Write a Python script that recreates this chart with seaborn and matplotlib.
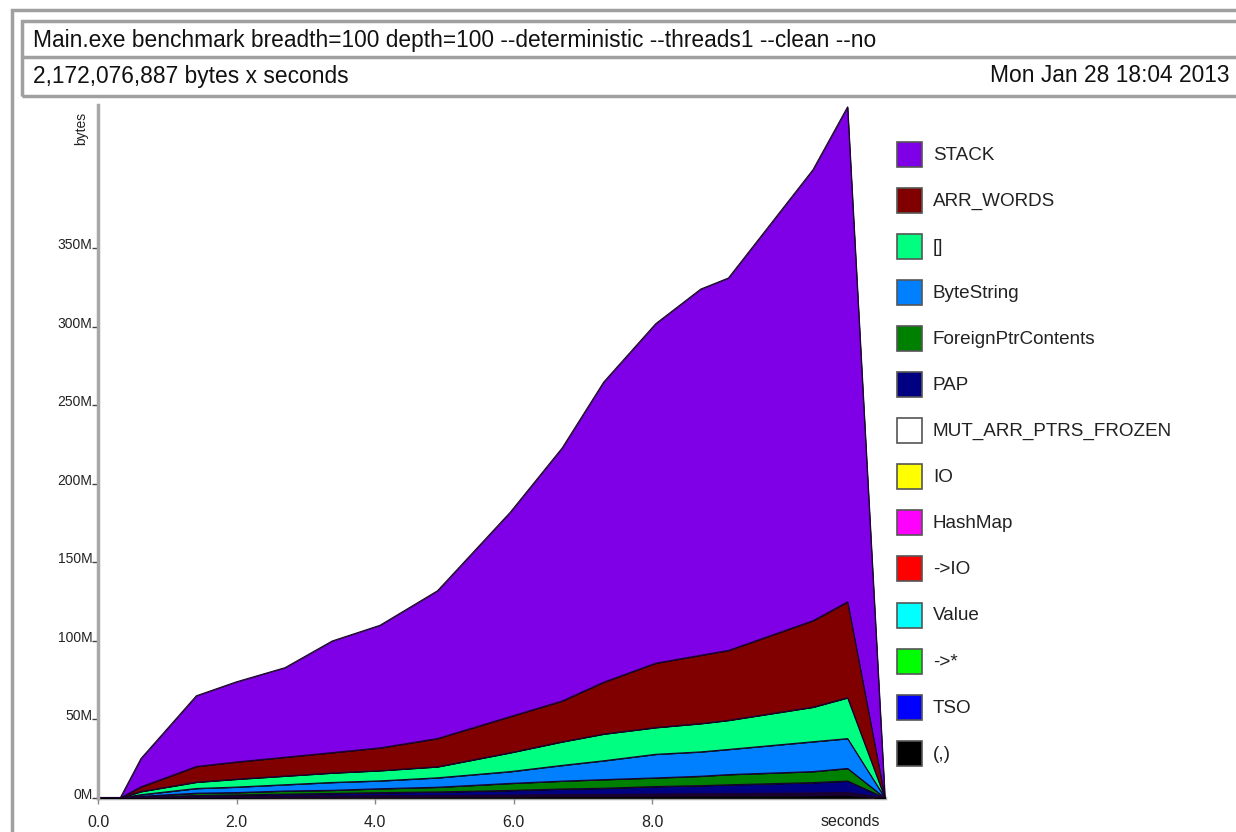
import numpy as np
import pandas as pd
import matplotlib
matplotlib.use("Agg")
import matplotlib.pyplot as plt
from matplotlib.patches import Rectangle
import matplotlib.transforms as mtransforms
import seaborn as sns

# ---------------- data (values in millions of bytes) ----------------
times = [0.0, 0.32, 0.62, 1.42, 2.0, 2.7, 3.38, 4.07, 4.9, 5.95, 6.7, 7.3, 8.05, 8.7, 9.1, 10.32, 10.82, 11.36]

stack_vals = [0, 0, 18, 45, 51, 57, 71, 78, 94, 130, 161, 191, 216, 233, 237, 287, 315, 0]
arr_words = [0, 0, 3, 10, 11, 12, 13, 14.5, 18, 23, 26, 33, 41, 43.5, 44.5, 55, 61, 0]
list_vals = [0, 0, 2, 4, 5, 5.5, 6, 6.5, 7, 12, 15, 17, 17, 18, 18.5, 22, 26, 0]
bytestring = [0, 0, 1, 3, 3.5, 4, 5, 5, 6, 7.5, 10, 12, 15, 15.5, 16, 19, 19, 0]
foreignptr = [0, 0, 0.5, 1.5, 1.5, 2, 2, 2.5, 3, 4.5, 5, 5.5, 5.5, 6, 6.5, 7, 8, 0]
pap = [0, 0, 0.2, 0.7, 1.0, 1.3, 1.7, 2.0, 2.3, 3.0, 3.6, 4.0, 4.8, 5.1, 5.6, 6.6, 7.3, 0]
mut_arr = [0, 0, 0.05, 0.1, 0.1, 0.15, 0.15, 0.2, 0.2, 0.25, 0.3, 0.3, 0.35, 0.4, 0.4, 0.45, 0.5, 0]
io_vals = [0, 0, 0.02, 0.05, 0.05, 0.05, 0.05, 0.05, 0.05, 0.05, 0.05, 0.05, 0.05, 0.05, 0.05, 0.05, 0.05, 0]
hashmap = [0, 0, 0.05, 0.1, 0.1, 0.1, 0.1, 0.1, 0.15, 0.15, 0.2, 0.2, 0.2, 0.25, 0.25, 0.3, 0.3, 0]
to_io = [0, 0, 0.02, 0.05, 0.05, 0.05, 0.05, 0.05, 0.05, 0.05, 0.05, 0.05, 0.05, 0.05, 0.05, 0.05, 0.05, 0]
value_vals = [0, 0, 0.05, 0.1, 0.1, 0.1, 0.15, 0.15, 0.15, 0.2, 0.2, 0.25, 0.25, 0.3, 0.3, 0.35, 0.35, 0]
to_star = [0, 0, 0.05, 0.1, 0.1, 0.15, 0.15, 0.2, 0.2, 0.25, 0.3, 0.3, 0.35, 0.35, 0.4, 0.45, 0.5, 0]
tso = [0, 0, 0.05, 0.05, 0.05, 0.05, 0.05, 0.05, 0.05, 0.05, 0.05, 0.05, 0.05, 0.05, 0.05, 0.05, 0.05, 0]
tuple_vals = [0, 0, 0.1, 0.3, 0.4, 0.5, 0.5, 0.6, 0.7, 0.8, 1.0, 1.0, 1.2, 1.3, 1.3, 1.5, 1.7, 0]

# legend order (top of stack first)
legend_names = ["STACK", "ARR_WORDS", "[]", "ByteString", "ForeignPtrContents", "PAP",
                "MUT_ARR_PTRS_FROZEN", "IO", "HashMap", "->IO", "Value", "->*", "TSO", "(,)"]
legend_colors = ["#7f00e6", "#800000", "#00ff80", "#0080ff", "#008000", "#000080",
                 "#ffffff", "#ffff00", "#ff00ff", "#ff0000", "#00ffff", "#00ff00", "#0000ff", "#000000"]
series_values = [stack_vals, arr_words, list_vals, bytestring, foreignptr, pap,
                 mut_arr, io_vals, hashmap, to_io, value_vals, to_star, tso, tuple_vals]

title_text = "Main.exe benchmark breadth=100 depth=100 --deterministic --threads1 --clean --no"
subtitle_left = "2,172,076,887 bytes x seconds"
subtitle_right = "Mon Jan 28 18:04 2013"
y_ticks = [0, 50, 100, 150, 200, 250, 300, 350]
y_ticklabels = ["0M", "50M", "100M", "150M", "200M", "250M", "300M", "350M"]
x_ticks = [0.0, 2.0, 4.0, 6.0, 8.0]
x_ticklabels = ["0.0", "2.0", "4.0", "6.0", "8.0"]

# ---------------- styling ----------------
sns.set_style("white")
plt.rcParams["font.family"] = ["Liberation Sans", "DejaVu Sans"]

W, H = 1236, 832
fig = plt.figure(figsize=(W / 100, H / 100), dpi=100)
fig.patch.set_facecolor("white")

def fx(x):
    return x / W

def fy(y):
    return 1 - y / H

# frames
frame_col = "#a0a0a0"
fig.patches.append(Rectangle((fx(12), fy(900)), fx(1400), fy(10) - fy(900),
                             transform=fig.transFigure, fill=False, ec=frame_col, lw=2.5))
fig.patches.append(Rectangle((fx(22), fy(96)), fx(1400), fy(21) - fy(96),
                             transform=fig.transFigure, fill=False, ec=frame_col, lw=2.5))
fig.add_artist(plt.Line2D([fx(22), fx(1236)], [fy(57), fy(57)], transform=fig.transFigure,
                          color=frame_col, lw=2.5))

fig.text(fx(33), fy(40), title_text, fontsize=16.4, va="center", ha="left", color="#111111")
fig.text(fx(33), fy(76), subtitle_left, fontsize=16.4, va="center", ha="left", color="#111111")
fig.text(fx(1229), fy(76), subtitle_right, fontsize=16.4, va="center", ha="right", color="#111111")

# axes
ax = fig.add_axes([fx(98), fy(798), fx(885 - 98), fy(105) - fy(798)])
ax.set_facecolor("white")

stack_order = list(reversed(range(len(legend_names))))  # bottom first
ax.stackplot(times, *[series_values[i] for i in stack_order],
             colors=[legend_colors[i] for i in stack_order],
             edgecolor="black", linewidth=0.5)

# outline the boundaries with seaborn
cum = np.zeros(len(times))
rows = []
for i in stack_order:
    cum = cum + np.array(series_values[i], dtype=float)
    for t, c in zip(times, cum):
        rows.append({"time": t, "cum": c, "series": legend_names[i]})
long_df = pd.DataFrame(rows)
sns.lineplot(data=long_df, x="time", y="cum", units="series", estimator=None,
             color="#1a0030", lw=0.8, legend=False, ax=ax, sort=False)

ax.set_xlim(0, 11.36)
ax.set_ylim(0, 441)
ax.set_xlabel("")
ax.set_ylabel("")
for s in ["top", "right"]:
    ax.spines[s].set_visible(False)
for s in ["left", "bottom"]:
    ax.spines[s].set_color("#a8a8a8")
    ax.spines[s].set_linewidth(2.5)
ax.spines["bottom"].set_zorder(0)

ax.set_yticks(y_ticks)
ax.set_yticklabels(y_ticklabels, fontsize=10, color="#222222")
ax.set_xticks(x_ticks)
ax.set_xticklabels(x_ticklabels, fontsize=11.5, color="#222222")
ax.tick_params(axis="y", direction="out", length=4, width=1, color="#444444", pad=0, left=True)
ax.tick_params(axis="x", direction="out", length=4, width=1, color="#888888", pad=8, bottom=True)
offset = mtransforms.ScaledTranslation(0, 3 / 100, fig.dpi_scale_trans)
for lbl in ax.get_yticklabels():
    lbl.set_verticalalignment("center")
    lbl.set_transform(lbl.get_transform() + offset)

fig.text(fx(850), fy(822), "seconds", fontsize=11.5, ha="center", va="center", color="#222222")
fig.text(fx(81), fy(128), "bytes", fontsize=10, rotation=90, ha="center", va="center", color="#222222")

# legend
for k, (name, col) in enumerate(zip(legend_names, legend_colors)):
    cy = 154 + k * 46.1
    fig.patches.append(Rectangle((fx(897), fy(cy + 12.5)), fx(25), fy(cy - 12.5) - fy(cy + 12.5),
                                 transform=fig.transFigure, fc=col, ec="#555555", lw=1.2))
    fig.text(fx(933), fy(cy + 1), name, fontsize=13.6, ha="left", va="center", color="#222222")

fig.savefig("out.png", dpi=100, facecolor="white")
